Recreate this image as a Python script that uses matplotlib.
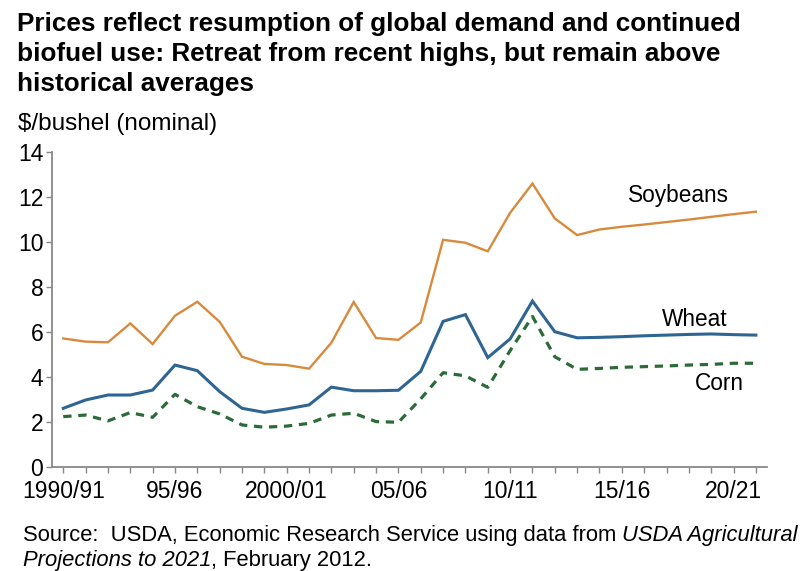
import numpy as np
import matplotlib
matplotlib.use("Agg")
import matplotlib.pyplot as plt

plt.rcParams['font.family'] = ['Liberation Sans', 'DejaVu Sans']

# Data, marketing years 1990/91 .. 2021/22
years = ["%02d/%02d" % (y % 100, (y + 1) % 100) for y in range(1990, 2022)]
years[0] = "1990/91"
years[10] = "2000/01"
soybeans = [5.72, 5.58, 5.55, 6.39, 5.47, 6.73, 7.35, 6.46, 4.91, 4.59,
            4.54, 4.38, 5.53, 7.34, 5.74, 5.66, 6.43, 10.10, 9.97, 9.59,
            11.30, 12.60, 11.05, 10.31, 10.56, 10.68, 10.78, 10.89, 11.00, 11.12,
            11.24, 11.35]
wheat = [2.62, 2.99, 3.21, 3.21, 3.43, 4.54, 4.29, 3.36, 2.62, 2.44,
         2.59, 2.77, 3.56, 3.40, 3.40, 3.42, 4.26, 6.48, 6.78, 4.87,
         5.70, 7.38, 6.02, 5.75, 5.77, 5.80, 5.84, 5.87, 5.90, 5.92,
         5.89, 5.87]
corn = [2.25, 2.32, 2.06, 2.43, 2.22, 3.24, 2.69, 2.37, 1.88, 1.78,
        1.83, 1.95, 2.32, 2.40, 2.03, 2.00, 3.04, 4.20, 4.06, 3.55,
        5.18, 6.70, 4.91, 4.35, 4.39, 4.44, 4.47, 4.50, 4.54, 4.57,
        4.62, 4.62]
label_years = ["1990/91", "95/96", "2000/01", "05/06", "10/11", "15/16", "20/21"]

x = np.arange(len(years))

fig = plt.figure(figsize=(8.01, 5.71), dpi=100)
ax = fig.add_axes([0.0645, 0.1816, 0.8931, 0.5522])

ax.plot(x, soybeans, color="#d88a3c", lw=1.7, solid_joinstyle="miter")
ax.plot(x, wheat, color="#2e6592", lw=2.2, solid_joinstyle="miter")
ax.plot(x, corn, color="#2b6b37", lw=2.3, dashes=(2.6, 2.1))

ax.set_xlim(-0.52, 31.5)
ax.set_ylim(0, 14)
ax.set_yticks(range(0, 15, 2))
ax.set_xticks(x, minor=False)
ax.set_xticklabels([y if y in label_years else "" for y in years])

for s in ["top", "right"]:
    ax.spines[s].set_visible(False)
for s in ["left", "bottom"]:
    ax.spines[s].set_color("#888888")
    ax.spines[s].set_linewidth(1.3)
ax.tick_params(axis="both", colors="#888888", labelcolor="black",
               labelsize=16.5, length=4, width=1.0, pad=2)
ax.tick_params(axis="x", pad=5)

# Series labels
ax.text(25.29, 11.78, "Soybeans", fontsize=16.3, va="baseline")
ax.text(26.80, 6.27, "Wheat", fontsize=16.3, va="baseline")
ax.text(28.29, 3.43, "Corn", fontsize=16.3, va="baseline")

# Title and units
title = ["Prices reflect resumption of global demand and continued",
         "biofuel use: Retreat from recent highs, but remain above",
         "historical averages"]
for i, line in enumerate(title):
    fig.text(17 / 801, 1 - (30.7 + 30 * i) / 571, line, fontsize=18.85,
             fontweight="bold", va="baseline", ha="left")
fig.text(18 / 801, 1 - 130 / 571, "$/bushel (nominal)", fontsize=17.5,
         va="baseline", ha="left")


# Source note: run of regular / italic pieces laid out left to right
def text_run(x0, y0, pieces, size):
    renderer = fig.canvas.get_renderer()
    xpos = x0
    for txt, style in pieces:
        t = fig.text(xpos / 801, 1 - y0 / 571, txt, fontsize=size,
                     fontstyle=style, va="baseline", ha="left")
        bb = t.get_window_extent(renderer=renderer)
        xpos = bb.x1


text_run(23, 541, [("Source:  USDA, Economic Research Service using data from ", "normal"),
                   ("USDA Agricultural", "italic")], 15.8)
text_run(23, 566, [("Projections to 2021", "italic"),
                   (", February 2012.", "normal")], 15.8)

fig.savefig("out.png", dpi=100)
